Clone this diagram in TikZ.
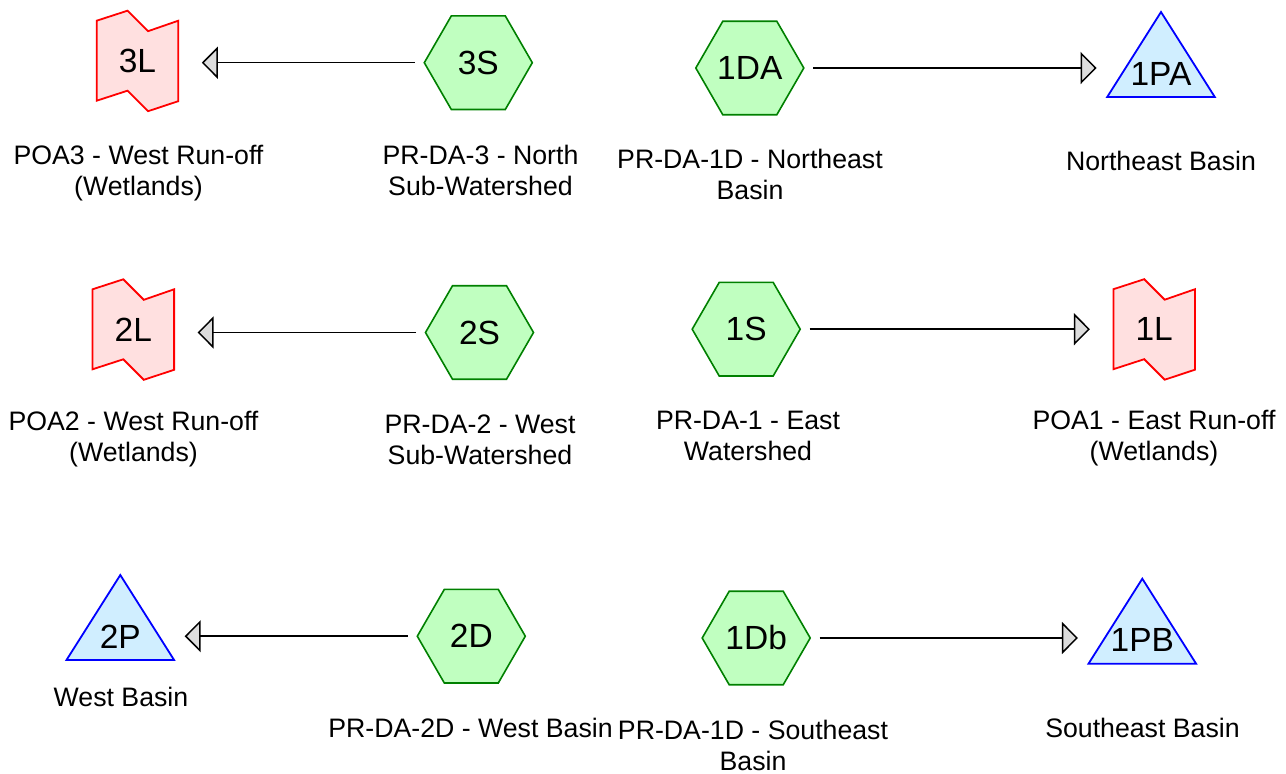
\documentclass[tikz,border=0pt]{standalone}
\usepackage{fontspec}
\setmainfont{Liberation Sans}
\usetikzlibrary{shapes.geometric,arrows.meta,backgrounds}
\definecolor{hexfill}{RGB}{192,255,192}
\definecolor{hexline}{RGB}{0,128,0}
\definecolor{flagfill}{RGB}{255,224,224}
\definecolor{flagline}{RGB}{255,0,0}
\definecolor{trifill}{RGB}{208,238,255}
\definecolor{triline}{RGB}{0,0,255}
\definecolor{tipfill}{RGB}{221,221,221}

\begin{document}
\begin{tikzpicture}[x=1pt,y=-1pt,
  shapetext/.style={font=\fontsize{33.5}{40}\selectfont, inner sep=0pt, outer sep=0pt},
  hexnode/.style={shapetext, regular polygon, regular polygon sides=6,
    minimum size=108pt, draw=hexline, fill=hexfill, line width=1.6pt},
  flagnode/.style={shapetext, minimum width=81.6pt, minimum height=80pt},
  trinode/.style={shapetext, minimum width=107.6pt, minimum height=30pt},
  flagshape/.style={draw=flagline, fill=flagfill, line width=1.8pt},
  trishape/.style={draw=triline, fill=trifill, line width=1.8pt},
  caption/.style={font=\fontsize{26.7}{31}\selectfont, align=center,
    anchor=base, inner sep=0pt},
  conn/.style={line width=1.5pt, shorten <=9.5pt,
    -{Triangle[length=16pt,width=32pt,fill=tipfill]}},
  toflag/.style={conn, shorten >=23.5pt},
  totri/.style={conn, shorten >=10.6pt},
]
\useasboundingbox (0,0) rectangle (1286,774);

% sub-watershed and drainage-area hexagons
\node[hexnode] (n3S)  at (478.3,62.7)  {3S};
\node[hexnode] (n1DA) at (749.8,68)    {1DA};
\node[hexnode] (n2S)  at (479.5,332.5) {2S};
\node[hexnode] (n1S)  at (746.2,329.2) {1S};
\node[hexnode] (n2D)  at (471.3,636.2) {2D};
\node[hexnode] (n1Db) at (756.2,638)   {1Db};

% points of analysis (links)
\node[flagnode] (n3L) at (137.5,60.7)  {3L};
\node[flagnode] (n2L) at (133.3,329.3) {2L};
\node[flagnode] (n1L) at (1154.2,329.2) {1L};

% ponds
\node[trinode] (n1PA) at (1161,73.5)    {1PA};
\node[trinode] (n2P)  at (120.3,636.5)  {2P};
\node[trinode] (n1PB) at (1142.3,640.2) {1PB};

\begin{scope}[on background layer]
  \foreach \n in {n3L,n2L,n1L}
    \draw[flagshape] ([shift={(-40.8,-40)}]\n.center) -- ([shift={(-10,-50)}]\n.center)
      -- ([shift={(10.5,-29.5)}]\n.center) -- ([shift={(40.8,-40)}]\n.center)
      -- ([shift={(40.8,40.5)}]\n.center) -- ([shift={(10.5,50.5)}]\n.center)
      -- ([shift={(-10,30)}]\n.center) -- ([shift={(-40.8,40)}]\n.center) -- cycle;
  \foreach \n in {n1PA,n2P,n1PB}
    \draw[trishape] ([shift={(0,-61.5)}]\n.center) -- ([shift={(53.8,23.5)}]\n.center)
      -- ([shift={(-53.8,23.5)}]\n.center) -- cycle;
\end{scope}

% connectors
\draw[toflag] (n3S.west) -- (n3S.west -| n3L.east);
\draw[totri]  (n1DA.east) -- (n1DA.east -| n1PA.west);
\draw[toflag] (n2S.west) -- (n2S.west -| n2L.east);
\draw[toflag] (n1S.east) -- (n1S.east -| n1L.west);
\draw[totri]  (n2D.west) -- (n2D.west -| n2P.east);
\draw[totri]  (n1Db.east) -- (n1Db.east -| n1PB.west);

% captions (base anchor sits on the last line)
\node[caption] (c3L)  at (138.5,195.5) {POA3 - West Run-off\\(Wetlands)};
\node[caption] (c3S)  at (480.5,195.5) {PR-DA-3 - North\\Sub-Watershed};
\node[caption] (c1DA) at (750,199.5)   {PR-DA-1D - Northeast\\Basin};
\node[caption] (c1PA) at (1161,170.5)  {Northeast Basin};
\node[caption] (c2L)  at (133.5,461.5) {POA2 - West Run-off\\(Wetlands)};
\node[caption] (c2S)  at (480,464.5)   {PR-DA-2 - West\\Sub-Watershed};
\node[caption] (c1S)  at (748,460.5)   {PR-DA-1 - East\\Watershed};
\node[caption] (c1L)  at (1154,460.5)  {POA1 - East Run-off\\(Wetlands)};
\node[caption] (c2P)  at (121,706.5)   {West Basin};
\node[caption] (c2D)  at (470.5,737.5) {PR-DA-2D - West Basin};
\node[caption] (c1Db) at (753,770.5)   {PR-DA-1D - Southeast\\Basin};
\node[caption] (c1PB) at (1142.5,737.5) {Southeast Basin};
\end{tikzpicture}
\end{document}
